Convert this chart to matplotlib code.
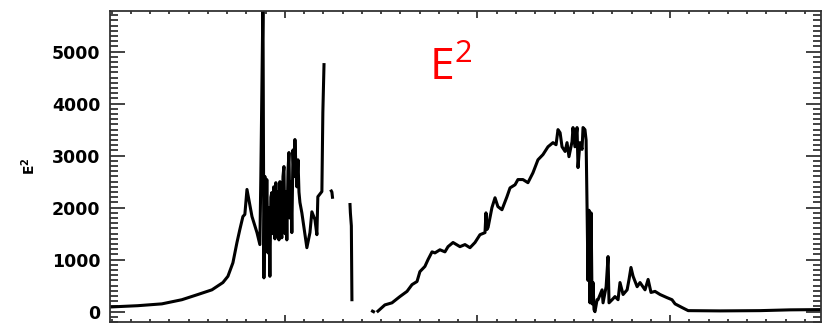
import numpy as np
import matplotlib
matplotlib.use("Agg")
import matplotlib.pyplot as plt
from matplotlib.ticker import MultipleLocator, NullFormatter

# E^2 trace, pieces separated by gaps (x in arbitrary time units)
x_a = [0.91, 2.36, 3.61, 4.65, 5.48, 6.21, 6.78, 7.04, 7.30, 7.51, 7.66, 7.82, 7.92,
       8.03, 8.29, 8.55, 8.70, 8.75, 8.86, 8.91, 8.96, 9.01, 9.06, 9.12, 9.17, 9.22,
       9.27, 9.32, 9.37, 9.42, 9.48, 9.53, 9.58, 9.64, 9.69, 9.74, 9.79, 9.84, 9.90,
       9.95, 10.00, 10.05, 10.10, 10.16, 10.21, 10.26, 10.31, 10.36, 10.42, 10.47,
       10.52, 10.57, 10.62, 10.68, 10.73, 10.78, 10.88, 11.14, 11.30, 11.40, 11.56,
       11.66, 11.71, 11.92, 11.97, 12.03]
y_a = [90, 115, 150, 230, 330, 420, 560, 680, 940, 1330, 1580, 1830, 1870,
       2350, 1830, 1520, 1290, 2600, 6000, 650, 2600, 1500, 2540, 1130, 2000, 680,
       2200, 2290, 1500, 2400, 1400, 2480, 1450, 2300, 1380, 2500, 1600, 1420, 2600,
       2790, 1500, 2300, 1380, 2700, 3060, 1800, 2500, 1520, 3110, 2600,
       3310, 2800, 2400, 2920, 2300, 2100, 1900, 1230, 1520, 1920, 1770,
       1480, 2210, 2310, 3830, 4750]

x_b = [12.41, 12.44, 12.47]
y_b = [2320, 2300, 2200]

x_c = [13.38, 13.40, 13.45, 13.48]
y_c = [2060, 1900, 1650, 230]

x_d = [14.55, 14.60]
y_d = [10, 0]

x_e = [14.83, 15.19, 15.56, 15.97, 16.34, 16.60, 16.86, 17.01, 17.27, 17.43, 17.64,
       17.79, 18.05, 18.31, 18.47, 18.73, 19.09, 19.35, 19.61, 19.87, 20.13, 20.39,
       20.44, 20.49, 20.55, 20.75, 20.91, 21.06, 21.27, 21.53, 21.69, 21.95, 22.10,
       22.36, 22.62, 22.88, 23.14, 23.40, 23.66, 23.92, 24.08, 24.18, 24.29, 24.39,
       24.55, 24.65, 24.75, 24.91, 24.96, 25.06, 25.17, 25.22, 25.32, 25.43, 25.48,
       25.58, 25.64, 25.69, 25.74, 25.79, 25.84, 25.90, 25.95, 26.00, 26.05, 26.10,
       26.21, 26.26, 26.47, 26.52, 26.68, 26.78, 26.83, 26.99, 27.14, 27.30, 27.40,
       27.56, 27.77, 27.87, 27.97, 28.08, 28.29, 28.44, 28.70, 28.86, 29.01, 29.22,
       29.48, 29.84, 30.10, 30.26, 30.62, 30.94, 32.60, 34.68, 36.23, 37.84]
y_e = [10, 130, 170, 290, 390, 520, 580, 770, 870, 1000, 1150,
       1130, 1190, 1150, 1250, 1330, 1250, 1290, 1230, 1330, 1480, 1520,
       1900, 1580, 1620, 2000, 2190, 2020, 1960, 2210, 2380, 2440, 2540,
       2540, 2480, 2670, 2920, 3020, 3170, 3250, 3210, 3500, 3440, 3170,
       3080, 3250, 2980, 3270, 3540, 3170, 3540, 2770, 3250, 3120, 3540,
       3500, 3300, 2000, 600, 1950, 170, 1900, 150, 560, 40, 0,
       230, 230, 420, 170, 480, 1060, 170, 230, 290, 230, 560,
       330, 420, 620, 850, 680, 480, 560, 420, 620, 370, 390,
       330, 270, 230, 150, 80, 20, 15, 20, 35, 40]

fig = plt.figure(figsize=(8.26, 3.25), dpi=100)
ax = fig.add_axes([0.133, 0.009, 0.861, 0.957])

for xs, ys in [(x_a, y_a), (x_b, y_b), (x_c, y_c), (x_d, y_d), (x_e, y_e)]:
    ax.plot(xs, ys, color='black', lw=2.2)

ax.set_xlim(0.91, 37.84)
ax.set_ylim(-200, 5780)

ax.xaxis.set_major_locator(MultipleLocator(10))
ax.xaxis.set_minor_locator(MultipleLocator(1))
ax.xaxis.set_major_formatter(NullFormatter())
ax.yaxis.set_major_locator(MultipleLocator(1000))
ax.yaxis.set_minor_locator(MultipleLocator(100))

ax.tick_params(axis='both', which='both', direction='in', top=True, right=True,
               width=1.2, color='#222222')
ax.tick_params(axis='x', which='major', length=5)
ax.tick_params(axis='x', which='minor', length=2.5)
ax.tick_params(axis='y', which='major', length=11, pad=7)
ax.tick_params(axis='y', which='minor', length=6)
for lab in ax.get_yticklabels():
    lab.set_fontweight('bold')
    lab.set_fontsize(12.5)
for s in ax.spines.values():
    s.set_linewidth(1.3)
    s.set_color('#333333')

ax.set_ylabel('E$^\\mathregular{2}$', fontsize=10, fontweight='bold', labelpad=10)

ax.text(0.449, 0.778, 'E$^\\mathregular{2}$', transform=ax.transAxes, color='red',
        fontsize=32, family='Open Sans', va='baseline', ha='left')

fig.savefig('out.png', dpi=100)
